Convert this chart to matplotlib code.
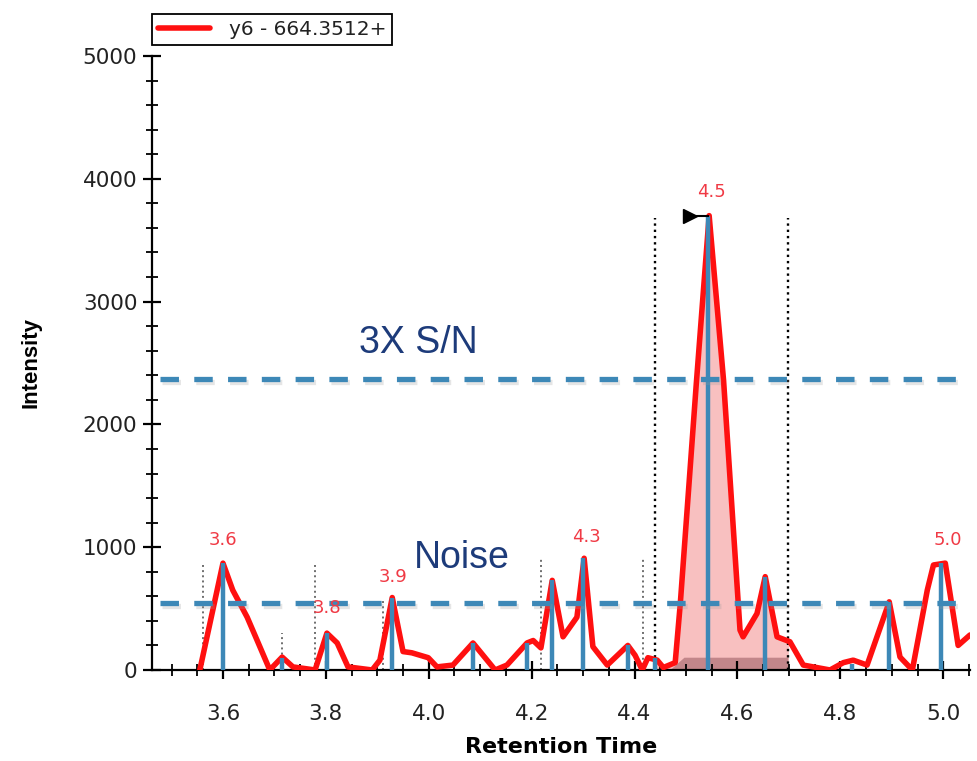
#!/usr/bin/env python3

import numpy as np
import matplotlib
matplotlib.use("Agg")
import matplotlib.pyplot as plt
import matplotlib.patheffects as pe
from matplotlib.ticker import MultipleLocator

# chromatogram trace (retention time, intensity)
rt = [3.555, 3.600, 3.619, 3.647, 3.666, 3.691, 3.715, 3.736, 3.779, 3.802,
      3.822, 3.843, 3.890, 3.905, 3.929, 3.950, 3.967, 3.999, 4.016, 4.047,
      4.086, 4.129, 4.152, 4.191, 4.203, 4.218, 4.240, 4.261, 4.288, 4.302,
      4.319, 4.347, 4.387, 4.401, 4.415, 4.426, 4.444, 4.456, 4.479, 4.489,
      4.520, 4.545, 4.573, 4.605, 4.611, 4.638, 4.654, 4.677, 4.702, 4.728,
      4.780, 4.806, 4.825, 4.852, 4.895, 4.916, 4.940, 4.969, 4.981, 5.004,
      5.029, 5.052]
intensity = [0, 870, 650, 430, 245, 0, 105, 25, 0, 300,
             220, 25, 0, 80, 590, 150, 140, 100, 25, 40,
             220, 0, 40, 220, 240, 180, 730, 270, 430, 910,
             190, 40, 200, 120, 0, 100, 80, 20, 60, 545,
             2330, 3700, 2360, 325, 270, 460, 760, 270, 230, 40,
             0, 60, 80, 40, 555, 105, 0, 650, 855, 870,
             200, 285]

# detected apex sticks
stick_rt = [3.600, 3.715, 3.802, 3.929, 4.086, 4.191, 4.240, 4.300,
            4.387, 4.440, 4.543, 4.654, 4.823, 4.895, 4.996]
stick_height = [870, 100, 300, 590, 220, 220, 730, 910,
                200, 100, 3700, 760, 50, 555, 870]

# peak boundary markers
minor_bound_rt = [3.561, 3.715, 3.779, 3.911, 4.218, 4.417]
minor_bound_top = [880, 300, 880, 570, 900, 900]
main_bound_rt = [4.440, 4.699]
main_bound_top = 3680

# apex labels
label_text = ["3.6", "3.8", "3.9", "4.3", "4.5", "5.0"]
label_rt = [3.600, 3.802, 3.931, 4.306, 4.549, 5.008]
label_y = [1060, 505, 757, 1083, 3890, 1058]

noise_level = 545
sn3_level = 2370
baseline_band = [(4.470, 0), (4.497, 100), (4.699, 100), (4.699, 0)]

red = "#ff1010"
blue = "#3d88b7"
navy = "#1d3b7a"

fig = plt.figure(figsize=(9.78, 7.61), dpi=100)
ax = fig.add_axes([0.1554, 0.1196, 0.8364, 0.8068])

# integrated peak area
xs = np.linspace(main_bound_rt[0], main_bound_rt[1], 300)
ax.fill_between(xs, 0, np.interp(xs, rt, intensity), color="#f8c0c0", lw=0, zorder=1)
ax.add_patch(plt.Polygon(baseline_band, closed=True, color="#bd8085", alpha=0.9, lw=0, zorder=1.5))

for x, top in zip(minor_bound_rt, minor_bound_top):
    ax.plot([x, x], [0, top], color="#6e6e6e", ls=":", lw=1.4, zorder=2)
for x in main_bound_rt:
    ax.plot([x, x], [0, main_bound_top], color="black", ls=":", lw=1.7, zorder=2)

line, = ax.plot(rt, intensity, color=red, lw=4, solid_joinstyle="round",
                solid_capstyle="round", zorder=3, label="y6 - 664.3512+")

ax.vlines(stick_rt, 0, stick_height, color=blue, lw=3.2, zorder=4)

shadow = [pe.SimpleLineShadow(offset=(1, -2), shadow_color="#999999", alpha=0.25), pe.Normal()]
for lvl in (sn3_level, noise_level):
    ax.plot([3.478, 5.048], [lvl, lvl], color=blue, lw=3.8, ls=(0, (3.5, 2.9)),
            zorder=5, path_effects=shadow)

# apex flag on main peak
ax.plot([4.508, 4.543], [3700, 3700], color="black", lw=1.5, zorder=6)
ax.plot([4.508], [3700], marker=">", color="black", markersize=10, zorder=6)

for t, x, y in zip(label_text, label_rt, label_y):
    ax.text(x, y, t, color="#f03a45", fontsize=13, ha="center", va="center",
            family="DejaVu Sans", zorder=7)

ax.text(3.979, 2663, "3X S/N", color=navy, fontsize=27, ha="center", va="center",
        family="Liberation Sans")
ax.text(4.065, 912, "Noise", color=navy, fontsize=27, ha="center", va="center",
        family="Liberation Sans")

ax.set_xlim(3.462, 5.052)
ax.set_ylim(0, 5000)
ax.xaxis.set_major_locator(MultipleLocator(0.2))
ax.xaxis.set_minor_locator(MultipleLocator(0.05))
ax.yaxis.set_major_locator(MultipleLocator(1000))
ax.yaxis.set_minor_locator(MultipleLocator(200))
ax.xaxis.set_major_formatter(plt.FuncFormatter(lambda v, p: f"{v:.1f}"))

for s in ("top", "right"):
    ax.spines[s].set_visible(False)
for s in ("left", "bottom"):
    ax.spines[s].set_linewidth(1.6)
ax.tick_params(which="major", direction="inout", length=13, width=1.6,
               labelsize=15.5, labelcolor="#222222")
ax.tick_params(which="minor", direction="inout", length=8, width=1.3)
for lab in ax.get_xticklabels() + ax.get_yticklabels():
    lab.set_family("DejaVu Sans")
ax.tick_params(axis="y", pad=4)
ax.tick_params(axis="x", pad=18)

ax.set_xlabel("Retention Time", fontsize=16, fontweight="bold", family="DejaVu Sans", labelpad=9)
ax.set_ylabel("Intensity", fontsize=16, fontweight="bold", family="Liberation Sans", labelpad=30)

leg = fig.legend(handles=[line], loc="lower left", bbox_to_anchor=(0.1554, 0.9409),
                 borderaxespad=0, fancybox=False, edgecolor="black", framealpha=1,
                 prop={"family": "DejaVu Sans", "size": 14.5},
                 handlelength=2.6, handletextpad=0.9, borderpad=0.3)
leg.get_frame().set_linewidth(1.3)
for txt in leg.get_texts():
    txt.set_color("#222222")

fig.savefig("out.png", dpi=100)
